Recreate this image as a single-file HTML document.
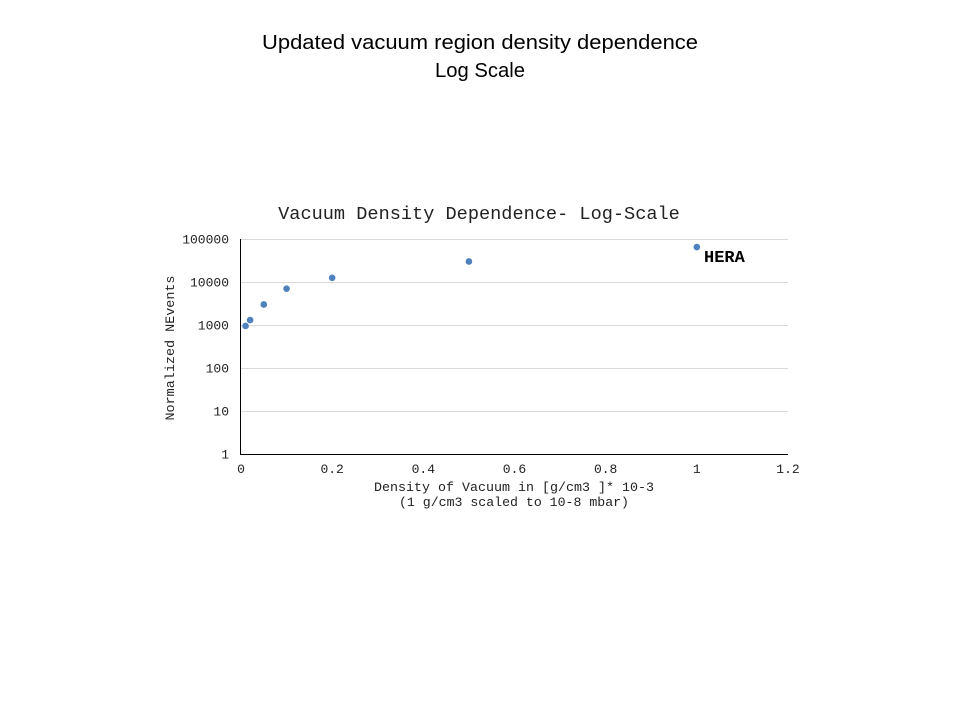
<!DOCTYPE html>
<html><head><meta charset="utf-8"><style>
body{margin:0;background:#fff;width:960px;height:720px;overflow:hidden}
svg text{font-family:"Liberation Mono",monospace;fill:#222}
</style></head><body>
<svg width="960" height="720">
<text x="480" y="49" text-anchor="middle" style="font-family:'Liberation Sans',sans-serif;font-size:20px;fill:#000" textLength="436" lengthAdjust="spacingAndGlyphs">Updated vacuum region density dependence</text>
<text x="480" y="77" text-anchor="middle" style="font-family:'Liberation Sans',sans-serif;font-size:20px;fill:#000" textLength="90" lengthAdjust="spacingAndGlyphs">Log Scale</text>
<text x="479" y="219" text-anchor="middle" font-size="18.6">Vacuum Density Dependence- Log-Scale</text>
<g id="grid"></g>
<g id="yt"></g>
<g id="xt"></g>
<line x1="240.5" y1="239" x2="240.5" y2="454" stroke="#000"/>
<line x1="240" y1="454.5" x2="788" y2="454.5" stroke="#000"/>
<text transform="translate(174,348) rotate(-90)" text-anchor="middle" font-size="13" textLength="145" lengthAdjust="spacingAndGlyphs">Normalized NEvents</text>
<text x="514" y="491" text-anchor="middle" font-size="12.5" textLength="280" lengthAdjust="spacingAndGlyphs">Density of Vacuum in [g/cm3 ]* 10-3</text>
<text x="514" y="506" text-anchor="middle" font-size="12.5" textLength="230" lengthAdjust="spacingAndGlyphs">(1 g/cm3 scaled to 10-8 mbar)</text>
<g id="pts"></g>
<text x="704" y="262" font-size="17" font-weight="bold" style="fill:#000">HERA</text>
</svg>
<script>
const xVals=[0.01,0.02,0.05,0.1,0.2,0.5,1.0];
const yVals=[950,1300,3000,7000,12500,30000,65000];
const yTicks=[1,10,100,1000,10000,100000];
const xTicks=[0,0.2,0.4,0.6,0.8,1,1.2];
const NS="http://www.w3.org/2000/svg";
const X0=241,X1=788,Y0=454,DEC=43;
const xs=v=>X0+(X1-X0)*v/1.2;
const ys=v=>Y0-DEC*Math.log10(v);
const g=document.getElementById('grid'),yt=document.getElementById('yt'),xt=document.getElementById('xt'),pts=document.getElementById('pts');
yTicks.forEach(t=>{const y=Math.round(ys(t))+0.5;
 if(t>1){const l=document.createElementNS(NS,'line');l.setAttribute('x1',241);l.setAttribute('x2',788);l.setAttribute('y1',y);l.setAttribute('y2',y);l.setAttribute('stroke','#d9d9d9');
 
 g.appendChild(l);}
 const tx=document.createElementNS(NS,'text');tx.setAttribute('x',229);tx.setAttribute('y',y+4);tx.setAttribute('text-anchor','end');tx.setAttribute('font-size','13');tx.textContent=String(t);
 
 yt.appendChild(tx);});
xTicks.forEach(t=>{const tx=document.createElementNS(NS,'text');tx.setAttribute('x',xs(t));tx.setAttribute('y',473);tx.setAttribute('text-anchor','middle');tx.setAttribute('font-size','13');tx.textContent=String(t);
 
 xt.appendChild(tx);});
xVals.forEach((v,i)=>{const c=document.createElementNS(NS,'circle');c.setAttribute('cx',xs(v));c.setAttribute('cy',ys(yVals[i]));c.setAttribute('r',3.3);c.setAttribute('fill','#4f81bd');
 
 pts.appendChild(c);});
</script>
</body></html>
